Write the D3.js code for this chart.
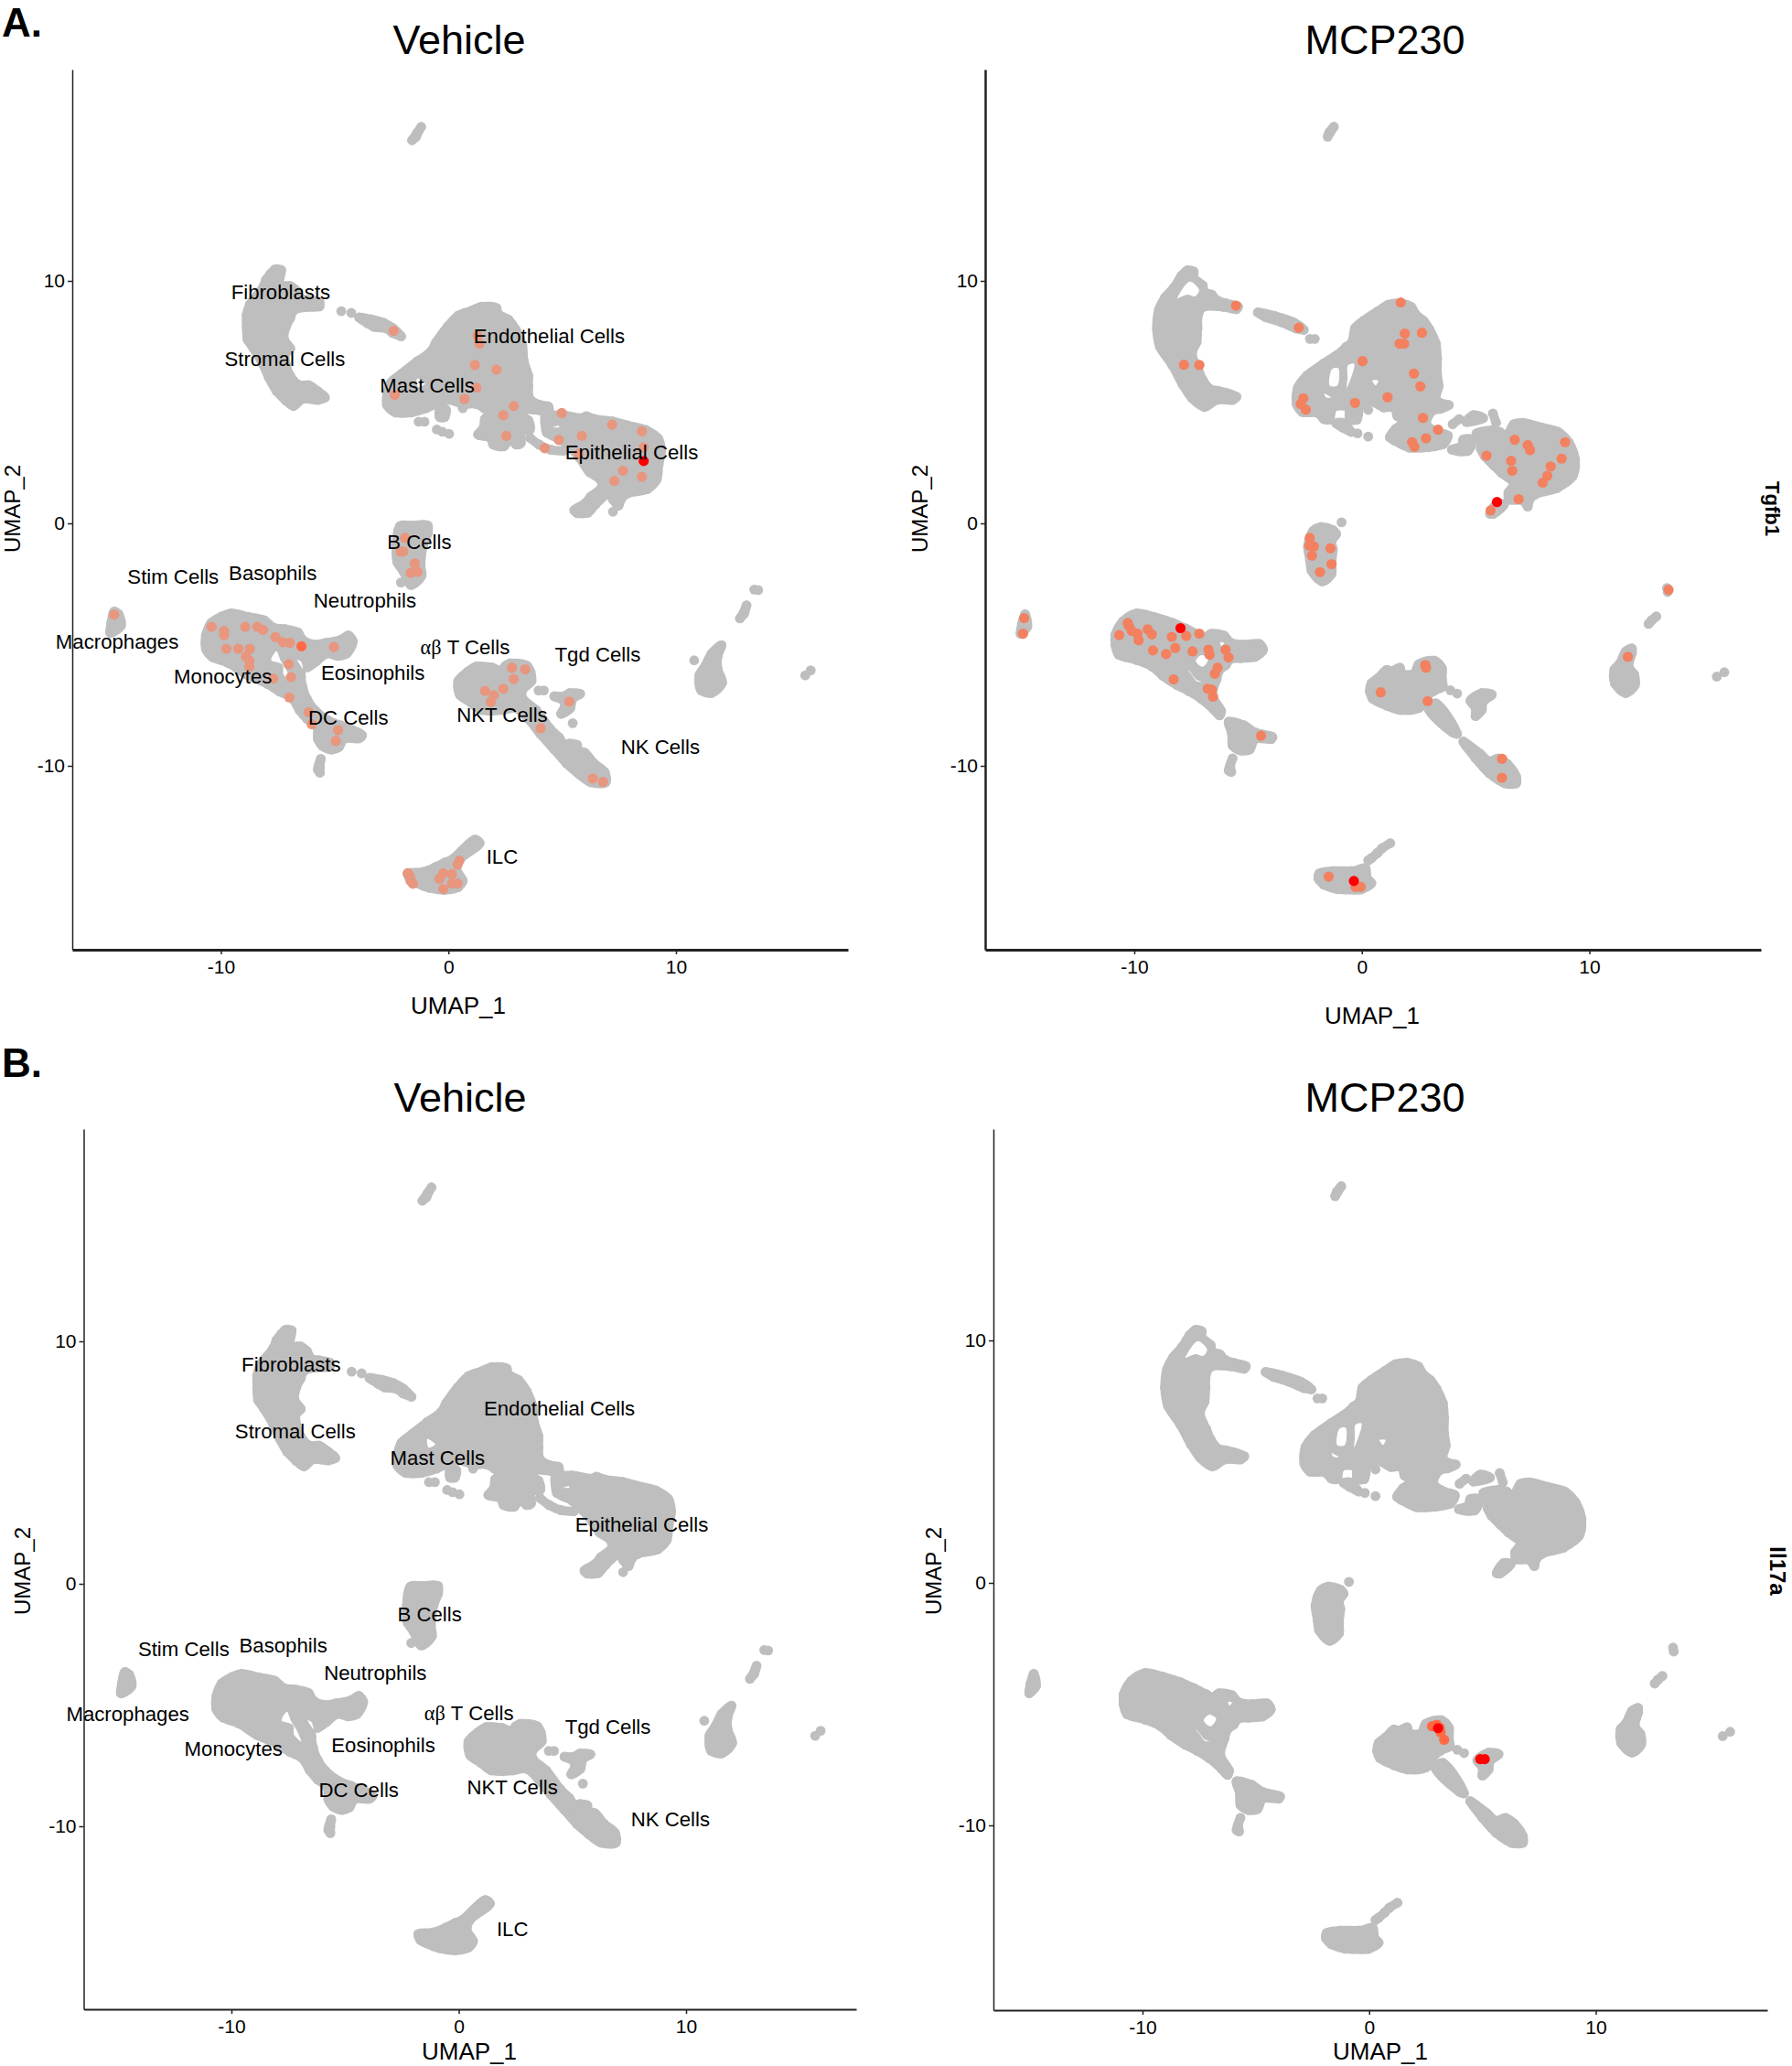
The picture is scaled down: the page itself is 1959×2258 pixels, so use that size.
<!DOCTYPE html>
<html>
<head>
<meta charset="utf-8">
<script src="https://cdn.jsdelivr.net/npm/d3@7"></script>
<style>
  html, body { margin: 0; padding: 0; background: #fff; }
  text { font-family: "Liberation Sans", Arial, sans-serif; fill: #000; }
</style>
</head>
<body>
<svg id="fig" width="1959" height="2258"></svg>
<script>
// The grey cloud overlaps too much to read single cells, so each cluster is
// a list of UMAP positions of the cells on its edge.
const vehFibro = [[-7.62,10.48],[-7.35,10.45],[-7.42,10.1],[-7.55,9.79],[-7.15,9.79],[-6.95,9.79],[-6.68,9.6],[-6.48,9.28],[-6.14,9.22],[-5.67,9.12],[-5.67,8.95],[-6.34,8.91],[-6.81,8.78],[-6.95,8.47],[-7.15,8.09],[-7.22,7.58],[-6.95,7.21],[-7.15,7.02],[-7.15,6.58],[-6.95,6.08],[-6.55,5.7],[-6.14,5.7],[-5.74,5.45],[-5.43,5.19],[-5.74,5.09],[-6.41,5.13],[-6.81,4.84],[-7.15,5.07],[-7.55,5.45],[-7.89,6.01],[-8.16,6.58],[-8.56,7.21],[-8.83,7.58],[-8.87,8.09],[-8.87,8.59],[-8.73,9.03],[-8.16,9.72],[-8.02,10.04],[-7.82,10.29]];
const vehTail = [[-3.93,8.49],[-3.39,8.42],[-2.86,8.28],[-2.45,8.06],[-2.08,7.71],[-2.45,7.85],[-2.72,8.03],[-3.26,8.1],[-3.55,8.25]];
const vehEndo = [[0.43,8.57],[1.03,8.78],[1.44,8.94],[2.11,8.88],[2.17,8.65],[2.64,8.4],[2.98,7.96],[3.25,7.33],[3.31,6.7],[3.51,6.08],[3.51,5.64],[3.58,5.13],[4.05,4.88],[4.39,4.82],[4.41,4.63],[3.72,4.69],[3.25,4.69],[3.04,4.5],[3.51,4.25],[3.58,3.87],[3.18,3.81],[3.18,3.31],[2.98,3.25],[2.71,3.5],[2.44,3.18],[1.97,3.25],[1.84,3.53],[1.3,3.66],[1.54,3.94],[1.6,4.31],[1.84,4.57],[1.57,4.75],[1.23,4.92],[0.63,4.92],[-0.04,5.09],[-0.98,4.75],[-1.65,4.57],[-2.32,4.57],[-2.7,4.88],[-2.7,5.32],[-2.52,5.82],[-2.05,6.18],[-1.38,6.68],[-0.78,7.08],[-0.55,7.46],[-0.04,8.11]];
const vehLobe = [[-0.38,4.69],[-0.11,4.69],[-0.17,4.38],[-0.38,4.38]];
const vehEpi = [[4.25,4.38],[4.99,4.47],[5.86,4.34],[6.06,4.42],[6.4,4.31],[7.2,4.21],[7.87,4.04],[8.68,3.85],[9.22,3.5],[9.35,2.99],[9.24,2.43],[9.15,1.8],[8.75,1.42],[7.87,1.23],[7.61,1.04],[7.47,0.73],[7.23,0.98],[7.07,1.23],[6.47,0.79],[6.13,0.44],[5.66,0.42],[5.53,0.54],[6.0,0.82],[6.26,1.11],[6.73,1.48],[6.67,1.8],[6.2,2.11],[5.73,2.74],[5.26,3.18],[4.99,3.43],[4.32,3.75],[4.25,4.13]];
const vehStrip = [[3.58,3.53],[3.98,3.25],[4.52,3.03],[5.06,2.99],[4.52,3.03],[3.98,3.25]];
const vehBCells = [[-2.12,-0.11],[-1.65,-0.09],[-0.91,-0.09],[-0.91,-0.4],[-1.11,-0.91],[-1.22,-1.72],[-1.18,-2.16],[-1.65,-2.54],[-1.99,-1.97],[-2.25,-1.6],[-2.29,-0.91]];
const vehTop = [[-1.2,16.35],[-1.38,16.1],[-1.6,15.8],[-1.42,15.95],[-1.3,16.2]];
const vehMacro = [[-14.69,-3.64],[-14.5,-3.74],[-14.39,-4.21],[-14.86,-4.52],[-14.82,-4.11]];
const vehMono = [[-9.56,-3.71],[-8.76,-3.86],[-8.09,-4.0],[-7.69,-4.3],[-7.15,-4.36],[-6.61,-4.5],[-6.41,-4.8],[-5.94,-4.99],[-5.41,-4.93],[-4.74,-4.8],[-4.4,-4.62],[-4.2,-4.87],[-4.47,-5.37],[-4.87,-5.47],[-5.34,-5.37],[-5.81,-5.69],[-6.21,-5.94],[-6.41,-5.69],[-6.48,-6.31],[-6.41,-6.75],[-6.21,-7.26],[-5.88,-7.7],[-5.27,-8.14],[-4.74,-8.33],[-3.8,-8.74],[-3.93,-8.87],[-4.6,-8.89],[-4.8,-9.21],[-5.14,-9.33],[-5.54,-9.18],[-5.74,-8.89],[-5.78,-8.39],[-6.21,-8.07],[-6.55,-7.7],[-6.88,-7.2],[-7.42,-6.94],[-7.95,-6.63],[-8.89,-6.23],[-9.7,-5.75],[-10.37,-5.52],[-10.66,-5.18],[-10.66,-4.62],[-10.43,-4.11],[-9.97,-3.84]];
const vehLowDC = [[-5.61,-9.71],[-5.65,-10.03],[-5.65,-10.28],[-5.74,-10.15]];
const vehILC = [[1.37,-13.19],[0.5,-13.86],[0.36,-14.3],[0.63,-14.74],[0.43,-15],[-0.17,-15.12],[-0.85,-15.03],[-1.11,-14.95],[-1.68,-14.7],[-1.78,-14.45],[-1.11,-14.37],[-0.58,-14.18],[-0.17,-13.99],[0.16,-13.86],[1.17,-13.04]];
const vehNKT = [[2.51,-5.87],[2.71,-5.77],[3.45,-5.87],[3.61,-6.13],[3.65,-6.5],[3.25,-6.88],[3.25,-7.2],[3.85,-7.7],[4.45,-8.45],[4.86,-8.83],[5.12,-9.14],[5.32,-9.08],[5.66,-9.14],[5.46,-9.33],[5.99,-9.46],[6.4,-9.9],[6.87,-10.27],[6.91,-10.68],[6.26,-10.68],[5.73,-10.34],[5.19,-9.9],[4.65,-9.33],[4.05,-8.7],[3.51,-8.07],[2.98,-7.63],[2.37,-7.7],[1.44,-7.7],[0.97,-7.38],[0.5,-7.07],[0.43,-6.5],[0.83,-6.13],[1.23,-5.9],[1.9,-5.94],[2.31,-6.06]];
const vehTgd = [[4.65,-7.13],[5.06,-7.13],[5.33,-7.0],[5.79,-7.03],[5.46,-7.23],[5.35,-7.63],[4.95,-7.86],[5.12,-7.51],[5.06,-7.32]];
const vehRightMid = [[13.1,-3.38],[13.0,-3.71],[12.81,-3.92],[12.9,-3.8]];
const vehRightBig = [[12.0,-5.02],[11.56,-5.37],[11.29,-5.87],[11.03,-6.25],[11.1,-6.88],[11.56,-7.0],[12.03,-6.57],[11.83,-6.0],[11.83,-5.5]];
const vehLoose = [[-4.71,8.75],[-4.27,8.68],[-1.31,4.19],[-1.05,4.19],[-0.51,3.87],[-0.27,3.78],[0.03,3.69],[0.63,4.75],[7.23,0.48],[-2.09,-2.44],[3.96,-6.89],[4.19,-6.89],[5.46,-8.24],[13.44,-2.73],[13.61,-2.75],[10.8,-5.65],[15.92,-6.06],[15.68,-6.27]];
const vehHoles = [
  [[-7.55,-5.25],[-7.82,-5.65],[-7.31,-5.85],[-7.28,-6.23],[-6.91,-6.54],[-7.12,-6.0],[-7.35,-5.65]],
  [[-6.68,-5.6],[-6.37,-6.06],[-6.45,-5.69]],
  [[-6.28,-4.74],[-5.74,-5.02],[-6.1,-4.8]],
  [[-1.4,6.0],[-1.0,5.75],[-1.35,5.6]],
  [[4.52,3.95],[4.9,3.95],[4.85,4.05]]
];

const mcpFibro = [[-7.66,10.44],[-7.39,10.38],[-7.39,10.13],[-6.99,9.81],[-6.95,9.56],[-6.59,9.43],[-6.38,9.21],[-5.98,9.08],[-5.44,8.93],[-5.51,8.83],[-6.11,8.93],[-6.99,8.91],[-7.19,8.62],[-7.22,8.05],[-7.26,7.48],[-7.46,7.04],[-7.33,6.6],[-7.19,6.35],[-6.99,5.91],[-6.65,5.53],[-6.32,5.47],[-5.51,5.22],[-5.68,5.09],[-6.38,5.09],[-6.92,4.8],[-7.46,5.16],[-7.87,5.72],[-8.34,6.54],[-8.88,7.3],[-9.01,8.05],[-8.92,8.81],[-8.65,9.31],[-8.27,9.71],[-7.93,10.21]];
const mcpTail = [[-4.57,8.7],[-3.82,8.55],[-3.02,8.3],[-2.55,7.98],[-2.88,8.03],[-3.56,8.3],[-4.23,8.5]];
const mcpEndo = [[0.69,8.74],[1.16,9.02],[1.7,9.08],[2.17,8.93],[2.37,8.62],[2.71,8.36],[2.98,7.99],[3.25,7.42],[3.31,6.79],[3.31,6.16],[3.38,5.66],[3.25,5.16],[3.45,4.97],[3.82,4.88],[3.45,4.72],[3.11,4.65],[2.84,4.09],[3.31,3.77],[3.78,3.62],[3.58,3.27],[2.91,3.14],[2.1,3.12],[1.43,3.42],[1.23,3.55],[1.49,3.9],[1.9,4.21],[1.56,4.43],[1.43,4.78],[0.96,4.78],[0.35,5.06],[-0.05,4.91],[-0.22,4.28],[-0.53,4.3],[-0.59,4.78],[-1.27,4.78],[-1.43,4.28],[-1.67,4.3],[-1.94,4.55],[-2.61,4.59],[-2.86,4.91],[-2.81,5.6],[-2.41,6.1],[-1.67,6.6],[-0.86,7.11],[-0.7,7.27],[-0.43,7.48],[-0.3,8.05],[0.08,8.36]];
const mcpFrag1 = [[3.99,4.09],[4.28,4.3]];
const mcpFrag2 = [[4.59,4.18],[4.9,4.47],[5.33,4.34]];
const mcpFrag3 = [[5.76,4.53],[5.9,4.15]];
const mcpFrag4 = [[4.46,3.46],[4.86,3.46],[4.66,2.99],[3.96,3.04],[4.39,3.21]];
const mcpEpi = [[5.04,3.71],[5.74,3.84],[6.07,3.77],[6.34,3.58],[6.68,4.09],[7.08,4.15],[7.89,3.96],[8.63,3.77],[9.1,3.33],[9.37,2.64],[9.27,1.95],[8.57,1.45],[7.62,1.19],[7.35,0.94],[7.29,0.69],[7.08,0.94],[6.48,0.98],[6.44,1.26],[6.68,1.64],[6.14,2.08],[5.8,2.39],[5.4,2.77],[5.23,3.08],[5.27,3.46]];
const mcpEpiFoot = [[6.25,0.78],[5.94,0.82],[5.63,0.4],[5.76,0.38]];
const mcpStrip = [[-1.13,4.13],[-0.86,4.15],[-0.46,3.77],[-0.86,3.96]];
const mcpBCells = [[-1.8,-0.15],[-1.27,-0.28],[-1.13,-0.44],[-1.33,-0.75],[-1.27,-1.07],[-1.33,-1.64],[-1.33,-2.08],[-1.74,-2.39],[-2.21,-1.95],[-2.28,-1.51],[-2.37,-0.94],[-2.14,-0.31]];
const mcpTop = [[-1.23,16.36],[-1.43,16.13],[-1.5,15.95]];
const mcpMacro = [[-14.8,-3.75],[-14.7,-4.25],[-15.0,-4.55],[-14.94,-4.15]];
const mcpMono = [[-9.89,-3.71],[-9.08,-3.87],[-8.34,-4.09],[-7.73,-4.34],[-7.19,-4.59],[-6.92,-4.72],[-6.63,-4.55],[-6.05,-4.63],[-5.78,-4.91],[-5.17,-5.0],[-4.5,-4.97],[-4.34,-5.22],[-4.7,-5.51],[-5.31,-5.56],[-5.78,-5.6],[-5.98,-5.85],[-6.25,-6.04],[-6.38,-6.42],[-6.56,-7.11],[-6.18,-7.74],[-6.25,-7.92],[-6.52,-7.67],[-7.06,-7.23],[-7.6,-6.92],[-8.13,-6.67],[-8.74,-6.29],[-9.21,-5.91],[-9.89,-5.64],[-10.69,-5.41],[-10.83,-5.03],[-10.83,-4.59],[-10.49,-4.03]];
const mcpDC = [[-5.85,-8.18],[-5.17,-8.33],[-4.7,-8.62],[-3.93,-8.81],[-3.99,-8.9],[-4.7,-8.9],[-4.93,-9.33],[-5.33,-9.37],[-5.68,-9.16],[-5.71,-8.68]];
const mcpLowDC = [[-5.68,-9.69],[-5.78,-10.04],[-5.74,-10.25],[-5.85,-10.2]];
const mcpILC = [[-1.87,-14.44],[-1.27,-14.34],[-0.46,-14.34],[-0.32,-14.34],[0.15,-14.21],[0.24,-14.65],[0.42,-14.84],[-0.05,-15.1],[-0.73,-15.1],[-1.06,-15.09],[-1.67,-14.9],[-1.91,-14.65]];
const mcpILCTail = [[1.25,-13.19],[0.89,-13.4],[0.69,-13.59],[0.42,-13.81],[0.28,-13.9],[0.42,-13.81],[0.69,-13.59],[0.89,-13.4]];
const mcpNKT = [[0.42,-6.6],[0.75,-6.35],[1.09,-6.04],[1.29,-6.1],[1.67,-5.95],[1.76,-6.19],[2.3,-6.19],[2.5,-5.81],[3.18,-5.66],[3.52,-5.97],[3.52,-6.42],[3.56,-6.73],[3.15,-6.92],[2.77,-7.23],[2.51,-7.61],[1.7,-7.7],[1.09,-7.52],[0.48,-7.23],[0.35,-6.92]];
const mcpNKTTail = [[3.25,-7.42],[4.19,-8.68],[3.99,-8.62],[2.91,-7.61]];
const mcpNK = [[4.46,-9.0],[5.2,-9.5],[5.6,-9.81],[6.01,-9.69],[6.41,-9.94],[6.78,-10.44],[6.78,-10.72],[6.28,-10.72],[5.6,-10.31],[5.0,-9.69]];
const mcpTgd = [[4.77,-7.32],[5.27,-7.0],[5.71,-7.06],[5.33,-7.36],[5.27,-7.7],[5.0,-7.95],[5.0,-7.61]];
const mcpRightMid = [[12.94,-3.84],[12.74,-4.0],[12.6,-4.15],[12.74,-4.0]];
const mcpRightBig = [[11.87,-5.16],[11.6,-5.28],[11.33,-5.79],[11.1,-6.02],[11.12,-6.6],[11.6,-7.0],[12.0,-6.67],[11.97,-6.23],[11.73,-5.91],[11.87,-5.35]];
const mcpLoose = [[-2.28,7.61],[-2.07,7.61],[0.28,4.68],[-0.19,3.71],[0.28,3.58],[-0.89,0.04],[3.89,-6.88],[4.19,-7.02],[13.41,-2.67],[13.44,-2.83],[15.93,-6.14],[15.6,-6.32]];
const mcpHoles = [
  [[-7.57,10.0],[-7.12,9.62],[-7.33,9.33],[-7.66,9.41],[-8.13,9.25]],
  [[-1.33,6.38],[-1.02,6.42],[-1.06,5.66],[-1.43,5.66]],
  [[-0.63,6.54],[-0.32,6.6],[-0.53,5.79],[-0.7,5.51],[-0.66,5.97]],
  [[0.42,5.91],[0.75,5.91],[0.62,5.66]],
  [[-1.67,5.38],[-1.29,5.18],[-1.6,5.18]],
  [[-7.33,-5.66],[-7.06,-5.41],[-6.72,-5.6],[-6.99,-5.94],[-7.26,-5.79]],
  [[-6.25,-4.88],[-6.01,-4.93],[-6.18,-5.09]],
  [[-7.87,-5.85],[-7.53,-6.23],[-7.26,-6.54],[-6.92,-6.54],[-7.26,-6.42],[-7.53,-6.1]]
];

const vehicleClusters = [vehFibro, vehTail, vehEndo, vehLobe, vehEpi, vehStrip, vehBCells, vehTop, vehMacro, vehMono, vehLowDC, vehILC, vehNKT, vehTgd, vehRightMid, vehRightBig];
const mcpClusters = [mcpFibro, mcpTail, mcpEndo, mcpFrag1, mcpFrag2, mcpFrag3, mcpFrag4, mcpEpi, mcpEpiFoot, mcpStrip, mcpBCells, mcpTop, mcpMacro, mcpMono, mcpDC, mcpLowDC, mcpILC, mcpILCTail, mcpNKT, mcpNKTTail, mcpNK, mcpTgd, mcpRightMid, mcpRightBig];

// expressing cells
const tgfb1VehicleLow = [[-2.41,7.94],[1.36,7.41],[1.28,7.73],[1.16,6.53],[2.11,6.34],[1.23,5.6],[-2.36,5.3],[0.7,5.13],[2.87,4.84],[2.41,4.46],[2.54,3.61],[4.98,4.55],[7.19,4.07],[8.5,3.8],[5.86,3.61],[4.85,3.44],[4.23,3.1],[8.58,3.13],[5.73,2.86],[7.67,2.17],[8.5,1.92],[7.29,1.75],[-1.91,-0.6],[-1.99,-1.16],[-2.1,-1.16],[-1.48,-1.65],[-1.66,-2.04],[-1.36,-2.0],[-14.69,-3.77],[-10.41,-4.27],[-9.86,-4.44],[-9.86,-4.61],[-8.93,-4.27],[-8.4,-4.27],[-8.15,-4.39],[-7.6,-4.69],[-7.27,-4.9],[-6.97,-4.93],[-5.03,-5.1],[-9.76,-5.17],[-9.23,-5.17],[-8.73,-5.17],[-8.9,-5.49],[-8.75,-5.66],[-8.75,-5.91],[-7.02,-5.81],[-7.7,-6.4],[-6.92,-6.34],[-6.99,-7.18],[-6.14,-7.79],[-6.01,-8.28],[-4.85,-8.53],[-4.95,-8.98],[2.79,-5.95],[3.37,-6.02],[2.87,-6.42],[2.41,-6.82],[1.61,-6.91],[1.99,-7.09],[1.86,-7.37],[5.31,-7.35],[4.05,-8.45],[6.34,-10.52],[6.79,-10.66],[0.48,-13.91],[0.4,-14.08],[-1.79,-14.43],[-1.69,-14.57],[-1.66,-14.75],[-1.56,-14.86],[-0.23,-14.43],[-0.4,-14.66],[0.15,-14.47],[0.15,-14.85],[0.4,-14.85],[-0.23,-15.08]];
const tgfb1VehicleMid = [[-6.46,-5.07]];
const tgfb1VehicleHigh = [[8.58,2.57]];
const tgfb1McpLow = [[-5.53,8.98],[-2.77,8.07],[1.71,9.11],[1.89,7.83],[2.64,7.86],[1.66,7.41],[1.86,7.41],[-7.82,6.54],[-7.14,6.53],[0.03,6.69],[2.29,6.18],[2.57,5.65],[1.13,5.2],[-0.3,4.97],[-2.57,5.16],[-2.69,4.92],[-2.46,4.69],[2.69,4.35],[3.35,3.86],[2.82,3.51],[2.21,3.35],[2.31,3.16],[6.72,3.45],[7.29,3.23],[7.39,3.02],[8.93,3.35],[8.78,2.67],[5.48,2.79],[6.56,2.58],[6.61,2.17],[8.3,2.35],[8.15,1.96],[7.95,1.68],[6.89,1.0],[5.66,0.53],[-2.29,-0.6],[-2.31,-0.92],[-2.11,-0.95],[-1.38,-1.03],[-2.19,-1.33],[-1.33,-1.68],[-1.84,-2.01],[13.48,-2.74],[-14.84,-3.91],[-14.89,-4.55],[-10.29,-4.11],[-10.24,-4.23],[-10.11,-4.44],[-9.86,-4.55],[-10.66,-4.61],[-9.81,-4.82],[-9.41,-4.37],[-9.23,-4.58],[-8.35,-4.68],[-7.72,-4.64],[-7.14,-4.55],[-9.18,-5.24],[-8.6,-5.39],[-8.2,-5.14],[-7.44,-5.28],[-6.74,-5.21],[-6.69,-5.42],[-5.99,-5.21],[-5.86,-5.53],[-6.34,-5.95],[-6.46,-6.2],[-8.27,-6.44],[-6.77,-6.82],[-6.59,-6.86],[-6.54,-7.15],[-4.43,-8.76],[0.83,-6.97],[2.79,-5.84],[2.82,-5.95],[2.89,-7.33],[11.69,-5.5],[6.16,-9.71],[6.16,-10.49],[-1.46,-14.57],[-0.28,-14.99],[-0.05,-14.99]];
const tgfb1McpHigh = [[5.94,0.88],[-7.97,-4.32],[-0.35,-14.75]];
const il17aMcpMid = [[2.77,-5.91],[2.98,-5.85],[3.15,-6.16],[3.31,-6.47],[3.11,-5.97]];
const il17aMcpHigh = [[3.04,-5.99],[4.9,-7.27],[5.1,-7.27]];

const vehicleLabels = ['Fibroblasts', 'Stromal Cells', 'Endothelial Cells', 'Mast Cells', 'Epithelial Cells', 'B Cells', 'Stim Cells', 'Basophils', 'Neutrophils', 'Macrophages', 'αβ T Cells', 'Tgd Cells', 'Monocytes', 'Eosinophils', 'DC Cells', 'NKT Cells', 'NK Cells', 'ILC'];
const labelX = [-7.37, -7.19, 4.43, -0.93, 8.05, -1.28, -12.1, -7.72, -3.67, -14.56, 0.73, 6.56, -9.91, -3.32, -4.4, 2.36, 9.31, 2.36];
const labelY = [9.53, 6.79, 7.73, 5.7, 2.93, -0.78, -2.21, -2.04, -3.16, -4.89, -5.11, -5.42, -6.3, -6.16, -8.0, -7.91, -9.22, -13.73];
const tickValues = [-10, 0, 10];

const GREY = '#bebebe';
const CELL_R = 5;
const DOT_R = 5.6;
const exprColor = d3.scaleLinear().domain([0, 0.4, 0.7, 1]).range(['#e8967e', '#f3805f', '#ff6a45', '#ff0000']);

const svg = d3.select('#fig');

function drawPanel (p) {
  let x = d3.scaleLinear().domain([-10, 10]).range(p.xTicks);
  let y = d3.scaleLinear().domain([-10, 10]).range(p.yTicks);
  x.domain([x.invert(p.left), x.invert(p.right)]).range([p.left, p.right]);
  y.domain([y.invert(p.bottom), y.invert(p.top)]).range([p.bottom, p.top]);

  let g = svg.append('g');
  let outline = d3.line().x(d => x(d[0])).y(d => y(d[1])).curve(d3.curveCatmullRomClosed.alpha(0.5));

  let cloud = g.append('g');
  cloud.selectAll('path.cluster').data(p.clusters).join('path')
    .attr('class', 'cluster')
    .attr('d', outline)
    .attr('fill', GREY)
    .attr('stroke', GREY)
    .attr('stroke-width', CELL_R * 2)
    .attr('stroke-linejoin', 'round');
  cloud.selectAll('circle').data(p.clusters.flat().concat(p.loose)).join('circle')
    .attr('cx', d => x(d[0]))
    .attr('cy', d => y(d[1]))
    .attr('r', CELL_R + 0.4)
    .attr('fill', GREY);
  cloud.selectAll('path.hole').data(p.holes).join('path')
    .attr('class', 'hole')
    .attr('d', outline)
    .attr('fill', '#fff')
    .attr('stroke', GREY)
    .attr('stroke-width', 1.5);

  p.dots.forEach(set => {
    g.append('g').selectAll('circle').data(set.cells).join('circle')
      .attr('cx', d => x(d[0]))
      .attr('cy', d => y(d[1]))
      .attr('r', DOT_R)
      .attr('fill', exprColor(set.level));
  });

  let xAxis = g.append('g')
    .attr('transform', `translate(0,${p.bottom})`)
    .call(d3.axisBottom(x).tickValues(tickValues).tickFormat(d => String(d)).tickSize(5).tickPadding(6).tickSizeOuter(0));
  let yAxis = g.append('g')
    .attr('transform', `translate(${p.left},0)`)
    .call(d3.axisLeft(y).tickValues(tickValues).tickFormat(d => String(d)).tickSize(5).tickPadding(3).tickSizeOuter(0));
  xAxis.select('.domain').attr('stroke', '#222').attr('stroke-width', p.xLine);
  yAxis.select('.domain').attr('stroke', '#222').attr('stroke-width', p.yLine);
  g.selectAll('.tick line').attr('stroke', '#222').attr('stroke-width', 1.5);
  g.selectAll('.tick text').attr('font-size', 21).attr('fill', '#000')
    .style('font-family', '"Liberation Sans", Arial, sans-serif');

  if (p.labels) {
    let lab = g.selectAll('text.cell-label').data(vehicleLabels).join('text')
      .attr('class', 'cell-label')
      .attr('x', (d, i) => x(labelX[i]))
      .attr('y', (d, i) => y(labelY[i]) + p.labelDy)
      .attr('dy', '0.35em')
      .attr('text-anchor', 'middle')
      .attr('font-size', 22.2);
    lab.text(d => d.startsWith('αβ') ? null : d);
    lab.filter(d => d.startsWith('αβ'))
      .attr('transform', `translate(${p.betaNudge[0]},${p.betaNudge[1]})`)
      .each(function (d) {
        let t = d3.select(this);
        t.append('tspan').style('font-family', '"Liberation Serif", serif').text('αβ');
        t.append('tspan').text(d.slice(2));
      });
  }

  g.append('text').attr('x', p.titleX).attr('y', p.titleY)
    .attr('text-anchor', 'middle').attr('font-size', 45).text(p.title);
  g.append('text').attr('x', p.xTitleX).attr('y', p.xTitleY)
    .attr('text-anchor', 'middle').attr('font-size', 26).text('UMAP_1');
  g.append('text').attr('transform', `translate(${p.yTitleX},${p.yTitleY}) rotate(-90)`)
    .attr('text-anchor', 'middle').attr('font-size', 24).text('UMAP_2');
  if (p.gene) {
    g.append('text').attr('transform', `translate(${p.geneX},${p.yTitleY}) rotate(90)`)
      .attr('text-anchor', 'middle').attr('font-size', p.geneSize).attr('font-weight', 'bold').text(p.gene);
  }
}

const vehicleCloud = { clusters: vehicleClusters, loose: vehLoose, holes: vehHoles, labels: true };
const mcpCloud = { clusters: mcpClusters, loose: mcpLoose, holes: mcpHoles, labels: false };

drawPanel({ ...vehicleCloud, title: 'Vehicle', left: 79, right: 927, top: 76, bottom: 1038, xTicks: [241.5, 739], yTicks: [837, 307], xLine: 3, yLine: 1.5, labelDy: 0, betaNudge: [0, 0], titleX: 502, titleY: 59, xTitleX: 501, xTitleY: 1108, yTitleX: 22, yTitleY: 556, dots: [{ cells: tgfb1VehicleLow, level: 0 }, { cells: tgfb1VehicleMid, level: 0.7 }, { cells: tgfb1VehicleHigh, level: 1 }] });
drawPanel({ ...mcpCloud, title: 'MCP230', left: 1077, right: 1925, top: 76, bottom: 1038, xTicks: [1240, 1737.5], yTicks: [837, 307], xLine: 3, yLine: 2.5, titleX: 1514, titleY: 59, xTitleX: 1500, xTitleY: 1119, yTitleX: 1014, yTitleY: 556, gene: 'Tgfb1', geneSize: 22, geneX: 1930, dots: [{ cells: tgfb1McpLow, level: 0.4 }, { cells: tgfb1McpHigh, level: 1 }] });
drawPanel({ ...vehicleCloud, title: 'Vehicle', left: 91.5, right: 936, top: 1234, bottom: 2196, xTicks: [253, 750], yTicks: [1996, 1466], xLine: 2, yLine: 1.5, labelDy: 13, betaNudge: [-7, -7], titleX: 503, titleY: 1215, xTitleX: 513, xTitleY: 2251, yTitleX: 33, yTitleY: 1717, dots: [] });
drawPanel({ ...mcpCloud, title: 'MCP230', left: 1086, right: 1932, top: 1234, bottom: 2197, xTicks: [1249, 1744.5], yTicks: [1995, 1465], xLine: 2, yLine: 1.5, titleX: 1514, titleY: 1215, xTitleX: 1509, xTitleY: 2251, yTitleX: 1029, yTitleY: 1717, gene: 'Il17a', geneSize: 24, geneX: 1935, dots: [{ cells: il17aMcpMid, level: 0.7 }, { cells: il17aMcpHigh, level: 1 }] });

svg.append('text').attr('x', 2).attr('y', 40).attr('font-size', 44).attr('font-weight', 'bold').text('A.');
svg.append('text').attr('x', 2).attr('y', 1177).attr('font-size', 44).attr('font-weight', 'bold').text('B.');
</script>
</body>
</html>
